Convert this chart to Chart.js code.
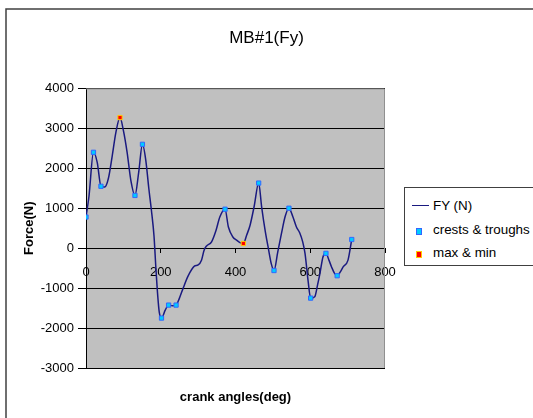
<!DOCTYPE html>
<html>
<head>
<meta charset="utf-8">
<script src="https://cdn.jsdelivr.net/npm/chart.js@4.4.1/dist/chart.umd.min.js"></script>
<style>
  body { margin: 0; background: #fff; }
  #wrap { position: relative; width: 533px; height: 418px; overflow: hidden; }
  #legend {
    position: absolute; left: 404px; top: 187px; width: 140px; height: 79px;
    border: 1px solid #404040; background: #fff; box-sizing: border-box;
    font-family: 'Liberation Sans', Arial, sans-serif;
    font-size: 13.4px; color: #000;
  }
  #legend div { position: absolute; left: 28px; white-space: nowrap; }
  #legend span { position: absolute; }
</style>
</head>
<body>
<div id="wrap">
  <canvas id="grafico" width="533" height="418"></canvas>
  <div id="legend">
    <span style="left:7px;top:17px;width:17px;height:0;border-top:1.5px solid #1a1a80"></span>
    <div style="top:10px">FY (N)</div>
    <span style="left:11px;top:40px;width:4px;height:5px;background:#00ccff;border:1px solid #3366ff"></span>
    <div style="top:34px">crests &amp; troughs</div>
    <span style="left:11px;top:63px;width:4px;height:5px;background:#ff0000;border:1px solid #ffcc00"></span>
    <div style="top:57px">max &amp; min</div>
  </div>
</div>
<script>
// crank angle (deg) y fuerza FY (N)
const angulos = [0, 8, 20, 30, 40, 50, 60, 70, 80, 91, 100, 110, 120, 131, 141, 151, 160, 168, 175, 182,
  187, 192, 196, 202, 212, 221, 231, 241, 250, 260, 273, 290, 300, 309, 316, 322, 336, 348, 358, 372,
  381, 393, 403, 412, 421, 430, 439, 450, 462, 470, 480, 488, 496, 503, 513, 523, 533, 543, 553, 563,
  572, 580, 586, 594, 601, 612, 620, 626, 634, 642, 650, 657, 665, 672, 680, 688, 701, 711];
const fuerzaFY = [780, 1300, 2400, 2150, 1550, 1530, 1750, 2300, 2900, 3270, 2950, 2400, 1700, 1320, 1900, 2600, 2200, 1500, 950, 300,
  -500, -1200, -1600, -1750, -1550, -1425, -1440, -1425, -1250, -1000, -700, -450, -420, -300, -50, 50, 160, 450, 780, 975,
  530, 280, 200, 140, 117, 330, 575, 1050, 1630, 1030, 400, -10, -400, -560, -100, 370, 800, 1000, 800, 530,
  380, 150, -130, -800, -1250, -1215, -900, -630, -220, -130, -300, -470, -630, -690, -600, -470, -300, 217];

// crestas y valles
const crestasAng = [0, 20, 40, 131, 151, 202, 221, 241, 372, 462, 503, 543, 601, 642, 672, 711];
const crestasVal = [780, 2400, 1550, 1320, 2600, -1750, -1425, -1425, 975, 1630, -560, 1000, -1250, -130, -690, 217];

// maximo y minimo
const maxMinAng = [91, 421];
const maxMinVal = [3270, 117];

const xTicks = [0, 200, 400, 600, 800];
const yTicks = [-3000, -2000, -1000, 0, 1000, 2000, 3000, 4000];

const fuente = "'Liberation Sans', Arial, sans-serif";

function puntos(xs, ys) {
    return xs.map((x, i) => ({ x: x, y: ys[i] }));
}

const fondo = {
    id: 'fondo',
    beforeDraw(chart) {
        const ctx = chart.ctx;
        const a = chart.chartArea;
        ctx.save();
        ctx.fillStyle = '#fff';
        ctx.fillRect(0, 0, chart.width, chart.height);
        ctx.strokeStyle = '#404040';
        ctx.lineWidth = 1.5;
        ctx.beginPath();
        ctx.moveTo(6, chart.height);
        ctx.lineTo(6, 9);
        ctx.lineTo(chart.width, 9);
        ctx.stroke();
        ctx.fillStyle = '#c0c0c0';
        ctx.fillRect(a.left, a.top, a.right - a.left, a.bottom - a.top);
        ctx.restore();
    },
    afterDraw(chart) {
        const ctx = chart.ctx;
        const a = chart.chartArea;
        ctx.save();
        ctx.strokeStyle = '#909090';
        ctx.lineWidth = 1;
        ctx.beginPath();
        ctx.moveTo(a.left, a.top + 0.5);
        ctx.lineTo(a.right - 0.5, a.top + 0.5);
        ctx.lineTo(a.right - 0.5, a.bottom);
        ctx.stroke();
        ctx.restore();
    }
};

const ctx = document.getElementById('grafico').getContext('2d');

new Chart(ctx, {
    type: 'scatter',
    data: {
        datasets: [
            {
                label: 'FY (N)',
                data: puntos(angulos, fuerzaFY),
                showLine: true,
                borderColor: '#1a1a80',
                borderWidth: 1.5,
                pointRadius: 0,
                cubicInterpolationMode: 'monotone',
                order: 3,
            },
            {
                label: 'crests & troughs',
                data: puntos(crestasAng, crestasVal),
                showLine: false,
                pointStyle: 'rect',
                pointRadius: 3,
                backgroundColor: '#00ccff',
                borderColor: '#3366ff',
                borderWidth: 1,
                order: 2,
            },
            {
                label: 'max & min',
                data: puntos(maxMinAng, maxMinVal),
                showLine: false,
                pointStyle: 'rect',
                pointRadius: 3,
                backgroundColor: '#ff0000',
                borderColor: '#ffcc00',
                borderWidth: 1,
                order: 1,
            },
        ],
    },
    options: {
        responsive: false,
        animation: false,
        layout: { padding: 0 },
        plugins: {
            legend: { display: false },
            tooltip: { enabled: false },
            title: {
                display: true,
                text: 'MB#1(Fy)',
                color: '#000',
                font: { family: fuente, size: 17, weight: 'normal' },
                padding: { top: 28, bottom: 40 },
            },
        },
        scales: {
            x: {
                type: 'linear',
                position: { y: 0 },
                min: 0,
                max: 800,
                afterBuildTicks: scale => { scale.ticks = xTicks.map(v => ({ value: v })); },
                ticks: { color: '#000', font: { family: fuente, size: 13 }, padding: 12, callback: v => String(v) },
                grid: { drawOnChartArea: false, drawTicks: true, tickLength: 4, color: '#000' },
                border: { display: true, color: '#000', width: 1 },
            },
            // eje inferior solo para el titulo
            xTitulo: {
                type: 'linear',
                position: 'bottom',
                min: 0,
                max: 800,
                afterFit: scale => { scale.height = 50; },
                ticks: { display: false },
                grid: { display: false, drawTicks: false },
                border: { display: false },
                title: {
                    display: true,
                    text: 'crank angles(deg)',
                    color: '#000',
                    font: { family: fuente, size: 13, weight: 'bold' },
                    padding: { top: 0, bottom: 13 },
                },
            },
            y: {
                type: 'linear',
                min: -3000,
                max: 4000,
                afterBuildTicks: scale => { scale.ticks = yTicks.map(v => ({ value: v })); },
                afterFit: scale => { scale.width = 86; },
                ticks: { color: '#000', font: { family: fuente, size: 13 }, padding: 4, callback: v => String(v) },
                grid: { color: '#000', lineWidth: 1, tickLength: 8 },
                border: { display: true, color: '#000', width: 1 },
                title: {
                    display: true,
                    text: 'Force(N)',
                    color: '#000',
                    font: { family: fuente, size: 13, weight: 'bold' },
                    padding: { top: 22, bottom: 0 },
                },
            },
            // espacio a la derecha para la leyenda
            yLeyenda: {
                type: 'linear',
                position: 'right',
                afterFit: scale => { scale.width = 148; },
                ticks: { display: false },
                grid: { display: false, drawTicks: false },
                border: { display: false },
            },
        },
    },
    plugins: [fondo],
});
</script>
</body>
</html>
